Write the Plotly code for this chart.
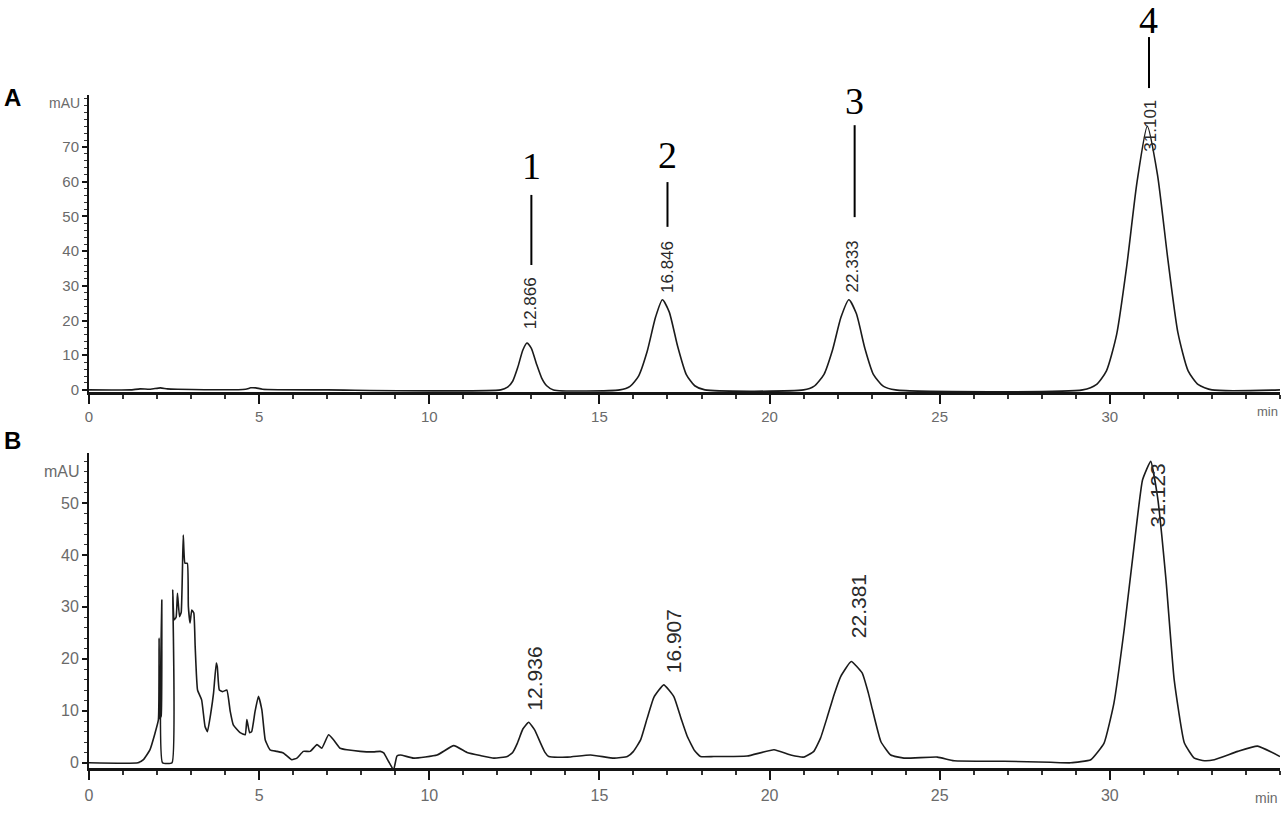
"""HPLC chromatograms — standard mix (A) vs sample extract (B)."""

import plotly.graph_objects as go

# ── Data ──────────────────────────────────────────────────────────────────────
# Panel A : standard mix (time in min, signal in mAU)
time_a = [0, 1.2, 1.5, 1.8, 2.1, 2.3, 2.6, 4.6, 4.75, 4.9, 5.1, 7.0, 12.1,
          12.3, 12.45, 12.6, 12.75, 12.87, 13.0, 13.15, 13.3, 13.45, 13.65,
          15.6, 15.9, 16.15, 16.4, 16.65, 16.85, 17.05, 17.3, 17.55, 17.8, 18.1,
          21.0, 21.3, 21.6, 21.85, 22.1, 22.33, 22.55, 22.8, 23.05, 23.35, 23.7,
          29.2, 29.6, 29.9, 30.2, 30.5, 30.8, 31.1, 31.4, 31.7, 32.0, 32.3, 32.6, 33.0,
          35.0]
signal_a = [0, 0, 0.3, 0.2, 0.6, 0.3, 0.2, 0.2, 0.6, 0.6, 0.2, 0, 0,
            0.8, 2.5, 6.5, 11.5, 13.5, 12.0, 7.5, 3.5, 1.2, 0,
            0, 1.0, 4.0, 11.0, 21.0, 26.0, 22.5, 12.5, 4.5, 1.2, 0,
            0, 1.0, 4.5, 11.5, 21.0, 26.0, 22.0, 12.0, 4.5, 1.0, 0,
            0, 1.5, 5.5, 16.0, 36.0, 60.0, 76.0, 62.0, 38.0, 16.5, 5.5, 1.5, 0,
            0]

# Panel B : sample extract
time_b = [0, 1.44, 1.6, 1.79, 1.94, 2.04, 2.06, 2.08, 2.12, 2.14, 2.16, 2.44,
          2.46, 2.5, 2.56, 2.6, 2.66, 2.71, 2.77, 2.82, 2.89, 2.92, 2.97, 3.02,
          3.08, 3.12, 3.19, 3.31, 3.41, 3.48, 3.58, 3.66, 3.74, 3.77, 3.83, 3.93,
          4.05, 4.15, 4.24, 4.44, 4.59, 4.64, 4.72, 4.78, 4.88, 4.98, 5.08, 5.18,
          5.32, 5.52, 5.71, 5.96, 6.11, 6.30, 6.50, 6.70, 6.84, 7.04, 7.19, 7.38,
          7.58, 7.97, 8.36, 8.56, 8.66, 8.80, 8.95, 9.05, 9.15, 9.54, 10.23,
          10.72, 11.11, 11.50, 11.90, 12.29, 12.45, 12.59, 12.75, 12.92, 13.10,
          13.27, 13.40, 13.51, 14.06, 14.74, 15.43, 15.82, 16.0, 16.21, 16.4,
          16.6, 16.89, 17.19, 17.4, 17.58, 17.8, 17.97, 18.36, 19.34, 20.13,
          20.62, 21.01, 21.3, 21.5, 21.7, 21.9, 22.09, 22.4, 22.72, 22.9, 23.02,
          23.27, 23.56, 23.95, 24.93, 25.42, 26.89, 28.26, 28.85, 29.44, 29.83,
          30.12, 30.42, 30.71, 30.96, 31.2, 31.4, 31.65, 31.89, 32.19, 32.48,
          32.78, 33.07, 33.76, 34.34, 35.0]
signal_b = [0, 0, 0.6, 2.5, 5.7, 8.3, 24.0, 8.5, 9.0, 31.3, 0, 0,
            33.3, 27.5, 28.0, 32.6, 28.1, 29.0, 43.8, 38.4, 38.4, 30.1, 26.9, 29.4,
            28.8, 22.4, 14.0, 12.1, 7.0, 6.0, 9.6, 13.4, 19.2, 18.5, 14.0, 13.7,
            14.0, 9.9, 7.3, 5.8, 5.4, 8.3, 5.8, 6.0, 9.9, 12.8, 10.2, 4.4,
            2.5, 2.2, 1.9, 0.6, 0.9, 2.2, 2.2, 3.5, 2.8, 5.4, 4.4, 2.8,
            2.5, 2.2, 2.1, 2.2, 1.9, 0.3, -1.35, 1.3, 1.5, 0.9, 1.5,
            3.3, 2.0, 1.4, 0.9, 1.2, 2.0, 3.8, 6.5, 7.8, 6.3,
            3.8, 2.0, 1.2, 1.1, 1.5, 0.9, 1.2, 2.2, 4.4, 8.5,
            12.6, 15.0, 12.7, 8.5, 5.1, 2.3, 1.2, 1.2, 1.3, 2.5,
            1.5, 1.1, 2.2, 4.8, 8.9, 13.2, 16.6, 19.5, 17.3, 13.5, 10.3,
            4.1, 1.5, 0.9, 1.1, 0.4, 0.3, 0.1, 0, 0.6, 3.8,
            11.5, 25.6, 41.6, 54.4, 58.0, 51.2, 35.2, 16.0, 3.8, 0.9,
            0.4, 0.6, 2.2, 3.2, 1.2]

# Retention-time labels (text, x, bottom of label in mAU)
rt_a = ["12.866", "16.846", "22.333", "31.101"]
rt_a_x = [13.0, 17.0, 22.45, 31.2]
rt_a_y = [17.0, 27.5, 27.5, 68.0]

rt_b = ["12.936", "16.907", "22.381", "31.123"]
rt_b_x = [13.1, 17.2, 22.6, 31.4]
rt_b_y = [9.6, 16.9, 23.6, 44.8]

# Compound numbers above panel A (number, x, number centre, line top, line bottom)
cmp_num = ["1", "2", "3", "4"]
cmp_x = [13.0, 17.0, 22.5, 31.15]
cmp_y = [64.5, 67.7, 83.3, 106.6]
cmp_line_top = [56.2, 59.9, 76.3, 101.7]
cmp_line_bot = [36.0, 47.0, 49.8, 87.0]

x_ticks = [0, 5, 10, 15, 20, 25, 30]
y_ticks_a = [0, 10, 20, 30, 40, 50, 60, 70]
y_ticks_b = [0, 10, 20, 30, 40, 50]

# ── Style ─────────────────────────────────────────────────────────────────────
_LINE = "#1b1b1b"
_AXIS = "#151515"
_TICKLBL = "#6a6a6a"
_NARROW = "Liberation Sans Narrow, Arial Narrow, Liberation Sans, Arial, sans-serif"
_SANS = "Liberation Sans, Arial, sans-serif"
_SERIF = "Liberation Serif, Times New Roman, serif"

X_RANGE = [0, 35]
YA_RANGE = [-0.6, 85]
YB_RANGE = [-1.0, 59.6]


def _yfrac(v, rng):
    return (v - rng[0]) / (rng[1] - rng[0])


fig = go.Figure()

fig.add_trace(go.Scatter(
    x=time_a, y=signal_a, mode="lines", xaxis="x", yaxis="y",
    line=dict(color=_LINE, width=1.6, shape="spline", smoothing=0.6),
    showlegend=False,
))
fig.add_trace(go.Scatter(
    x=time_b, y=signal_b, mode="lines", xaxis="x2", yaxis="y2",
    line=dict(color=_LINE, width=1.6, shape="spline", smoothing=0.4),
    showlegend=False,
))

annotations = []
shapes = []

for txt, x, y in zip(rt_a, rt_a_x, rt_a_y):
    annotations.append(dict(
        text=txt, x=x, y=y, xref="x", yref="y", textangle=-90,
        xanchor="center", yanchor="bottom", showarrow=False,
        font=dict(family=_SANS, size=17, color="#2a2a2a"),
    ))

for txt, x, y in zip(rt_b, rt_b_x, rt_b_y):
    annotations.append(dict(
        text=txt, x=x, y=y, xref="x2", yref="y2", textangle=-90,
        xanchor="center", yanchor="bottom", showarrow=False,
        font=dict(family=_SANS, size=21, color="#2a2a2a"),
    ))

for num, x, y, y0, y1 in zip(cmp_num, cmp_x, cmp_y, cmp_line_top, cmp_line_bot):
    annotations.append(dict(
        text=num, x=x / X_RANGE[1], y=_yfrac(y, YA_RANGE),
        xref="x domain", yref="y domain", xanchor="center", yanchor="middle",
        showarrow=False, font=dict(family=_SERIF, size=38, color="black"),
    ))
    shapes.append(dict(
        type="line", xref="x domain", yref="y domain",
        x0=x / X_RANGE[1], x1=x / X_RANGE[1],
        y0=_yfrac(y0, YA_RANGE), y1=_yfrac(y1, YA_RANGE),
        line=dict(color="black", width=2),
    ))

# panel letters, units
annotations += [
    dict(text="<b>A</b>", x=-0.073, y=0.997, xref="paper", yref="paper",
         xanchor="left", yanchor="middle", showarrow=False,
         font=dict(family=_SANS, size=24, color="black")),
    dict(text="<b>B</b>", x=-0.073, y=0.486, xref="paper", yref="paper",
         xanchor="left", yanchor="middle", showarrow=False,
         font=dict(family=_SANS, size=24, color="black")),
    dict(text="mAU", x=-0.006, y=0.988, xref="paper", yref="paper",
         xanchor="right", yanchor="middle", showarrow=False,
         font=dict(family=_NARROW, size=14, color=_TICKLBL)),
    dict(text="mAU", x=-0.006, y=0.44, xref="paper", yref="paper",
         xanchor="right", yanchor="middle", showarrow=False,
         font=dict(family=_NARROW, size=16, color=_TICKLBL)),
    dict(text="min", x=1.0, y=0.530, xref="paper", yref="paper",
         xanchor="right", yanchor="middle", showarrow=False,
         font=dict(family=_NARROW, size=13, color=_TICKLBL)),
    dict(text="min", x=1.0, y=-0.045, xref="paper", yref="paper",
         xanchor="right", yanchor="middle", showarrow=False,
         font=dict(family=_NARROW, size=14, color=_TICKLBL)),
]


def _xaxis(anchor, size, standoff):
    return dict(
        range=X_RANGE, anchor=anchor, tickvals=x_ticks,
        showline=True, linecolor=_AXIS, linewidth=2.5,
        ticks="outside", ticklen=9, tickwidth=2, tickcolor=_AXIS,
        minor=dict(tickvals=list(range(0, 36)), ticks="outside", ticklen=4,
                   tickwidth=1.5, tickcolor="#333"),
        showgrid=False, zeroline=False, ticklabelstandoff=standoff,
        tickfont=dict(family=_NARROW, size=size, color=_TICKLBL),
    )


def _yaxis(anchor, domain, rng, ticks, size):
    return dict(
        range=rng, anchor=anchor, domain=domain, tickvals=ticks,
        showline=True, linecolor=_AXIS, linewidth=2,
        ticks="outside", ticklen=5, tickwidth=1.5, tickcolor=_AXIS,
        minor=dict(dtick=2, tick0=0, ticks="outside", ticklen=3,
                   tickwidth=1, tickcolor="#333"),
        showgrid=False, zeroline=False,
        tickfont=dict(family=_NARROW, size=size, color=_TICKLBL),
    )


fig.update_layout(
    width=1284, height=817,
    paper_bgcolor="white", plot_bgcolor="white",
    margin=dict(l=89, r=4, t=95, b=49),
    xaxis=_xaxis("y", 15, 0),
    xaxis2=_xaxis("y2", 16, 2),
    yaxis=_yaxis("x", [0.5587, 1.0], YA_RANGE, y_ticks_a, 15),
    yaxis2=_yaxis("x2", [0.0, 0.468], YB_RANGE, y_ticks_b, 16),
    annotations=annotations,
    shapes=shapes,
)

# page body has a default margin; drop it so the figure sits at (0, 0)
fig.write_html(
    "out.html",
    config={"displayModeBar": False},
    post_script="document.body.style.margin='0';document.body.style.overflow='hidden';",
)
